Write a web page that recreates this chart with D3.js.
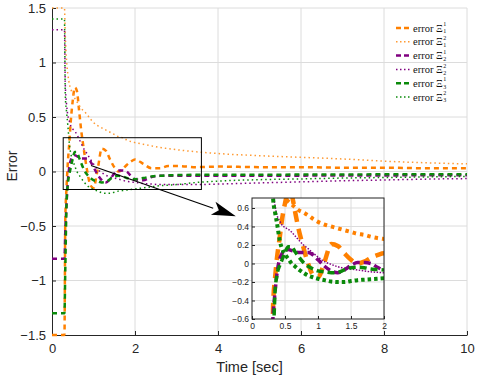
<!DOCTYPE html>
<html>
<head>
<meta charset="utf-8">
<script src="https://cdn.jsdelivr.net/npm/d3@7"></script>
<style>
  body { margin: 0; background: #fff; }
</style>
</head>
<body>
<div id="chart"></div>
<script>
const WIDTH = 481;
const HEIGHT = 377;
const MARGINS = { TOP: 8, LEFT: 52, BOTTOM: 42, RIGHT: 14 };
const INSET = { LEFT: 252, TOP: 198, WIDTH: 132, HEIGHT: 121 };
const SANS = '"Liberation Sans", Arial, sans-serif';
const SERIF = '"Liberation Serif", "Times New Roman", serif';

// data
const TIME = [0, 0.3, 0.32, 0.35, 0.38, 0.42, 0.45, 0.5, 0.55, 0.6, 0.65, 0.7, 0.78, 0.85, 0.93, 1.0,
  1.1, 1.2, 1.3, 1.4, 1.5, 1.6, 1.7, 1.8, 1.9, 2.0, 2.2, 2.4, 2.6, 2.8, 3.0, 3.5, 4, 5, 6, 7, 8, 9, 10];
const E11 = [-1.5, -1.5, -0.45, -0.15, 0.07, 0.28, 0.45, 0.65, 0.77, 0.74, 0.57, 0.39, 0.17, 0.0, -0.13, -0.15,
  0.02, 0.21, 0.19, 0.11, 0.04, 0.0, 0.02, 0.06, 0.09, 0.11, 0.07, 0.03, 0.03, 0.05, 0.05, 0.04, 0.045, 0.04, 0.04, 0.035, 0.035, 0.03, 0.03];
const E12 = [1.5, 1.5, 1.25, 1.02, 0.9, 0.8, 0.76, 0.71, 0.67, 0.64, 0.61, 0.58, 0.55, 0.52, 0.48, 0.45,
  0.42, 0.4, 0.38, 0.36, 0.34, 0.32, 0.31, 0.29, 0.275, 0.265, 0.25, 0.235, 0.22, 0.21, 0.2, 0.18, 0.165, 0.145, 0.13, 0.115, 0.095, 0.08, 0.07];
const E21 = [-0.8, -0.8, -0.55, -0.3, -0.1, 0.05, 0.1, 0.14, 0.15, 0.14, 0.13, 0.12, 0.12, 0.12, 0.09, 0.04,
  -0.03, -0.08, -0.1, -0.07, -0.02, 0.01, 0.01, 0.0, -0.04, -0.07, -0.08, -0.05, -0.04, -0.04, -0.04, -0.04, -0.04, -0.04, -0.038, -0.037, -0.036, -0.035, -0.035];
const E22 = [1.3, 1.3, 0.8, 0.62, 0.52, 0.46, 0.42, 0.39, 0.37, 0.34, 0.3, 0.26, 0.2, 0.16, 0.11, 0.07,
  0.02, -0.01, -0.035, -0.05, -0.06, -0.07, -0.08, -0.09, -0.095, -0.1, -0.11, -0.115, -0.12, -0.12, -0.12, -0.12, -0.115, -0.105, -0.095, -0.085, -0.078, -0.07, -0.065];
const E31 = [-1.3, -1.3, -0.9, -0.3, -0.12, -0.02, 0.03, 0.12, 0.18, 0.18, 0.13, 0.08, 0.01, -0.03, -0.06, -0.08,
  -0.09, -0.1, -0.095, -0.07, -0.045, -0.04, -0.045, -0.06, -0.065, -0.07, -0.06, -0.045, -0.04, -0.035, -0.033, -0.03, -0.03, -0.03, -0.028, -0.027, -0.026, -0.025, -0.025];
const E32 = [1.4, 1.4, 0.7, 0.55, 0.43, 0.25, 0.17, 0.1, 0.05, 0.0, -0.03, -0.06, -0.1, -0.13, -0.15, -0.165,
  -0.18, -0.195, -0.2, -0.2, -0.19, -0.18, -0.175, -0.17, -0.165, -0.16, -0.15, -0.14, -0.13, -0.125, -0.12, -0.1, -0.088, -0.075, -0.068, -0.06, -0.055, -0.05, -0.045];

const SUBS = [1, 1, 2, 2, 3, 3];
const SUPS = [1, 2, 1, 2, 1, 2];
const X_TICKS = [0, 2, 4, 6, 8, 10];
const Y_TICKS = [-1.5, -1, -0.5, 0, 0.5, 1, 1.5];
const INSET_X_TICKS = [0, 0.5, 1, 1.5, 2];
const INSET_Y_TICKS = [-0.6, -0.4, -0.2, 0, 0.2, 0.4, 0.6];

const ORANGE = "#ff8000", ORANGE_LIGHT = "#ff9a33", PURPLE = "#800080", GREEN = "#0a8a0a";

// w/dash = main chart stroke, iw/idash = inset stroke
const series = [
  { values: E11, color: ORANGE, w: 2.5, dash: "5,4", iw: 4.5, idash: "11,7" },
  { values: E12, color: ORANGE_LIGHT, w: 1.5, dash: "1.5,3", iw: 4, idash: "3.5,4" },
  { values: E21, color: PURPLE, w: 2.5, dash: "5,4", iw: 3.5, idash: "7,4" },
  { values: E22, color: PURPLE, w: 1.5, dash: "1.5,3", iw: 1.5, idash: "1.5,1.5" },
  { values: E31, color: GREEN, w: 2.5, dash: "5,4", iw: 3.5, idash: "7,4" },
  { values: E32, color: GREEN, w: 1.5, dash: "1.5,3", iw: 4, idash: "3.5,3" }
];

const innerW = WIDTH - MARGINS.LEFT - MARGINS.RIGHT;
const innerH = HEIGHT - MARGINS.TOP - MARGINS.BOTTOM;

let root = d3.select("#chart")
  .append("svg")
  .attr("width", WIDTH)
  .attr("height", HEIGHT)
  .attr("font-family", SANS);

let svg = root.append("g")
  .attr("transform", `translate(${MARGINS.LEFT},${MARGINS.TOP})`);

let x = d3.scaleLinear().domain([0, 10]).range([0, innerW]);
let y = d3.scaleLinear().domain([-1.5, 1.5]).range([innerH, 0]);

// grid
svg.append("g").selectAll("line").data(X_TICKS.slice(1)).enter().append("line")
  .attr("x1", d => x(d)).attr("x2", d => x(d)).attr("y1", 0).attr("y2", innerH)
  .attr("stroke", "#dcdcdc");
svg.append("g").selectAll("line").data(Y_TICKS.slice(1)).enter().append("line")
  .attr("x1", 0).attr("x2", innerW).attr("y1", d => y(d)).attr("y2", d => y(d))
  .attr("stroke", "#dcdcdc");

// axes
let xAxis = d3.axisBottom(x).tickValues(X_TICKS).tickSizeInner(-4).tickSizeOuter(0).tickPadding(9);
let yAxis = d3.axisLeft(y).tickValues(Y_TICKS).tickSizeInner(-4).tickSizeOuter(0).tickPadding(6)
  .tickFormat(d3.format("~g"));

svg.append("g").attr("transform", `translate(0,${innerH})`).call(xAxis);
svg.append("g").call(yAxis);
svg.selectAll(".tick text").attr("font-size", 13).attr("fill", "#262626").attr("font-family", SANS);
svg.selectAll(".domain, .tick line").attr("stroke", "#262626");

// data lines
let defs = root.append("defs");
defs.append("clipPath").attr("id", "clipMain")
  .append("rect").attr("x", 0).attr("y", -3).attr("width", innerW).attr("height", innerH + 6);

let line = d3.line().x((d, i) => x(TIME[i])).y(d => y(d)).curve(d3.curveMonotoneX);

svg.append("g").attr("clip-path", "url(#clipMain)")
  .selectAll("path").data(series).enter().append("path")
  .attr("d", d => line(d.values))
  .attr("fill", "none")
  .attr("stroke", d => d.color)
  .attr("stroke-width", d => d.w)
  .attr("stroke-dasharray", d => d.dash);

// zoom box + arrow
svg.append("rect")
  .attr("x", x(0.27)).attr("y", y(0.31))
  .attr("width", x(3.6) - x(0.27)).attr("height", y(-0.165) - y(0.31))
  .attr("fill", "none").attr("stroke", "#000").attr("stroke-width", 1);

let ax0 = x(0.94), ay0 = y(0.055), ax1 = x(4.43), ay1 = y(-0.41);
let ang = Math.atan2(ay1 - ay0, ax1 - ax0);
let headLen = 24, headW = 7;
let bx = ax1 - headLen * Math.cos(ang), by = ay1 - headLen * Math.sin(ang);
svg.append("line")
  .attr("x1", ax0).attr("y1", ay0).attr("x2", bx).attr("y2", by)
  .attr("stroke", "#000").attr("stroke-width", 1.2);
svg.append("path")
  .attr("d", `M${ax1},${ay1} L${bx + headW * Math.sin(ang)},${by - headW * Math.cos(ang)} L${bx + 6 * Math.cos(ang)},${by + 6 * Math.sin(ang)} L${bx - headW * Math.sin(ang)},${by + headW * Math.cos(ang)} Z`)
  .attr("fill", "#000");

// axis labels
svg.append("text")
  .attr("x", x(5) - 10).attr("y", innerH + 37)
  .attr("text-anchor", "middle").attr("font-size", 14.5).attr("fill", "#262626")
  .text("Time [sec]");
svg.append("text")
  .attr("transform", `translate(${-35},${y(0.05)}) rotate(-90)`)
  .attr("text-anchor", "middle").attr("font-size", 14).attr("fill", "#262626")
  .text("Error");

// legend
let legend = root.append("g").attr("id", "legend").attr("font-family", SERIF);
series.forEach((s, i) => {
  let ly = 28 + i * 13.8;
  legend.append("line")
    .attr("x1", 396).attr("x2", 410).attr("y1", ly).attr("y2", ly)
    .attr("stroke", s.color).attr("stroke-width", s.w)
    .attr("stroke-dasharray", i % 2 === 0 ? "5,3" : "1.5,2.5");
  let t = legend.append("text")
    .attr("x", 413).attr("y", ly + 3.5)
    .attr("font-size", 10.5).attr("fill", "#111")
    .text("error Ξ");
  let tw = t.node().getComputedTextLength();
  legend.append("text").attr("x", 413 + tw + 0.5).attr("y", ly - 1.8)
    .attr("font-size", 6).attr("fill", "#111")
    .text(SUPS[i]);
  legend.append("text").attr("x", 413 + tw + 0.5).attr("y", ly + 5.4)
    .attr("font-size", 6).attr("fill", "#111")
    .text(SUBS[i]);
});

// inset
let ix = d3.scaleLinear().domain([0, 2]).range([0, INSET.WIDTH]);
let iy = d3.scaleLinear().domain([-0.6, 0.708]).range([INSET.HEIGHT, 0]);
let inset = root.append("g").attr("transform", `translate(${INSET.LEFT},${INSET.TOP})`);

inset.append("rect").attr("width", INSET.WIDTH).attr("height", INSET.HEIGHT).attr("fill", "#fff");
inset.append("g").selectAll("line").data(INSET_X_TICKS.slice(1, -1)).enter().append("line")
  .attr("x1", d => ix(d)).attr("x2", d => ix(d)).attr("y1", 0).attr("y2", INSET.HEIGHT)
  .attr("stroke", "#dcdcdc");
inset.append("g").selectAll("line").data(INSET_Y_TICKS.slice(1)).enter().append("line")
  .attr("x1", 0).attr("x2", INSET.WIDTH).attr("y1", d => iy(d)).attr("y2", d => iy(d))
  .attr("stroke", "#dcdcdc");

defs.append("clipPath").attr("id", "clipInset")
  .append("rect").attr("width", INSET.WIDTH).attr("height", INSET.HEIGHT);

let iline = d3.line().x((d, i) => ix(TIME[i])).y(d => iy(d)).curve(d3.curveMonotoneX);
inset.append("g").attr("clip-path", "url(#clipInset)")
  .selectAll("path").data(series).enter().append("path")
  .attr("d", d => iline(d.values))
  .attr("fill", "none")
  .attr("stroke", d => d.color === ORANGE_LIGHT ? ORANGE : d.color)
  .attr("stroke-width", d => d.iw)
  .attr("stroke-dasharray", d => d.idash);

inset.append("rect").attr("width", INSET.WIDTH).attr("height", INSET.HEIGHT)
  .attr("fill", "none").attr("stroke", "#222").attr("stroke-width", 1);

let ixAxis = d3.axisBottom(ix).tickValues(INSET_X_TICKS).tickSizeInner(-3).tickSizeOuter(0).tickPadding(4)
  .tickFormat(d3.format("~g"));
let iyAxis = d3.axisLeft(iy).tickValues(INSET_Y_TICKS).tickSizeInner(-3).tickSizeOuter(0).tickPadding(3)
  .tickFormat(d3.format("~g"));
inset.append("g").attr("transform", `translate(0,${INSET.HEIGHT})`).call(ixAxis);
inset.append("g").call(iyAxis);
inset.selectAll(".tick text").attr("font-size", 8.5).attr("fill", "#222").attr("font-family", SANS);
inset.selectAll(".domain").remove();
inset.selectAll(".tick line").attr("stroke", "#222");
</script>
</body>
</html>
